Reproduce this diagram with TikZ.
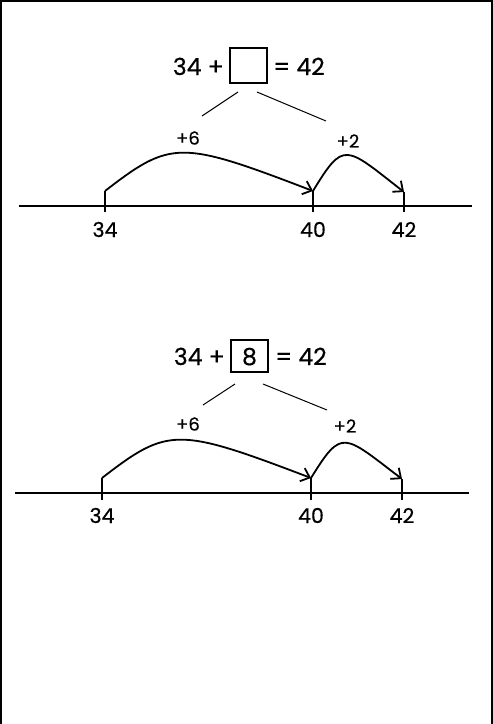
\documentclass[tikz,border=0pt]{standalone}
\usepackage{fontspec}
\setmainfont{Poppins}[FakeBold=0.5]
\usetikzlibrary{arrows.meta}
\begin{document}
\begin{tikzpicture}[x=1pt,y=-1pt,
  eq/.style={font=\fontsize{23.5}{27}\selectfont, inner sep=0pt},
  lab/.style={font=\fontsize{20.5}{24}\selectfont, inner sep=0pt},
  jump/.style={font=\fontsize{18}{21}\selectfont, inner sep=0pt},
  blank/.style={draw, line width=2pt, minimum width=37pt, minimum height=35pt, inner sep=0pt},
  axis/.style={line width=2pt},
  tickmark/.style={line width=1.6pt},
  hop/.style={line width=1.8pt, -{Straight Barb[length=8pt,width=14pt]}},
  link/.style={line width=1pt},
  frame/.style={line width=2.5pt}]
\useasboundingbox (0,0) rectangle (493,724);
\draw[frame] (1.2,724) -- (1.2,1.2) -- (491.8,1.2) -- (491.8,724);

% ---------- top diagram ----------
\node[eq, anchor=base east] (ta) at (224,75) {34 +};
\node[blank] (tbox) at (248.5,65.5) {};
\node[eq, anchor=base west] (tc) at (273,75) {= 42};
\coordinate (tl1) at (238,92);
\coordinate (tl2) at (202,116);
\coordinate (tr1) at (257,92);
\coordinate (tr2) at (326,121);
\draw[link] (tl1) -- (tl2);
\draw[link] (tr1) -- (tr2);
\node[jump] (tp6) at (188,138) {+6};
\node[jump] (tp2) at (348,141) {+2};
\coordinate (tax1) at (19,206);
\coordinate (tax2) at (472,206);
\draw[axis] (tax1) -- (tax2);
\coordinate (tk34) at (105,191);
\coordinate (tk40) at (313,191);
\coordinate (tk42) at (404,192);
\draw[tickmark] (tk34) -- (105,212);
\draw[tickmark] (tk40) -- (313,212);
\draw[tickmark] (tk42) -- (404,212);
\node[lab] (tn34) at (105,229.5) {34};
\node[lab] (tn40) at (313,229.5) {40};
\node[lab] (tn42) at (404,229.5) {42};
\draw[hop] (tk34) .. controls (171,140) and (180,140) .. (tk40);
\draw[hop] (tk40) .. controls (344,140) and (345,146) .. (tk42);

% ---------- bottom diagram ----------
\node[eq, anchor=base east] (ba) at (225,365) {34 +};
\node[blank, minimum height=32pt] (bbox) at (249.5,356) {};
\node[eq, anchor=base] (b8) at (249.5,365) {8};
\node[eq, anchor=base west] (bc) at (275,365) {= 42};
\coordinate (bl1) at (235,384);
\coordinate (bl2) at (203,405);
\coordinate (br1) at (263,384);
\coordinate (br2) at (327,410);
\draw[link] (bl1) -- (bl2);
\draw[link] (br1) -- (br2);
\node[jump] (bp6) at (188,424) {+6};
\node[jump] (bp2) at (345,426) {+2};
\coordinate (bax1) at (15,493);
\coordinate (bax2) at (469,493);
\draw[axis] (bax1) -- (bax2);
\coordinate (bk34) at (102,478);
\coordinate (bk40) at (311,478);
\coordinate (bk42) at (402,479);
\draw[tickmark] (bk34) -- (102,500);
\draw[tickmark] (bk40) -- (311,500);
\draw[tickmark] (bk42) -- (402,500);
\node[lab] (bn34) at (102,515.5) {34};
\node[lab] (bn40) at (311,515.5) {40};
\node[lab] (bn42) at (402,515.5) {42};
\draw[hop] (bk34) .. controls (168,427) and (177,427) .. (bk40);
\draw[hop] (bk40) .. controls (342,428) and (343,434) .. (bk42);
\end{tikzpicture}
\end{document}
